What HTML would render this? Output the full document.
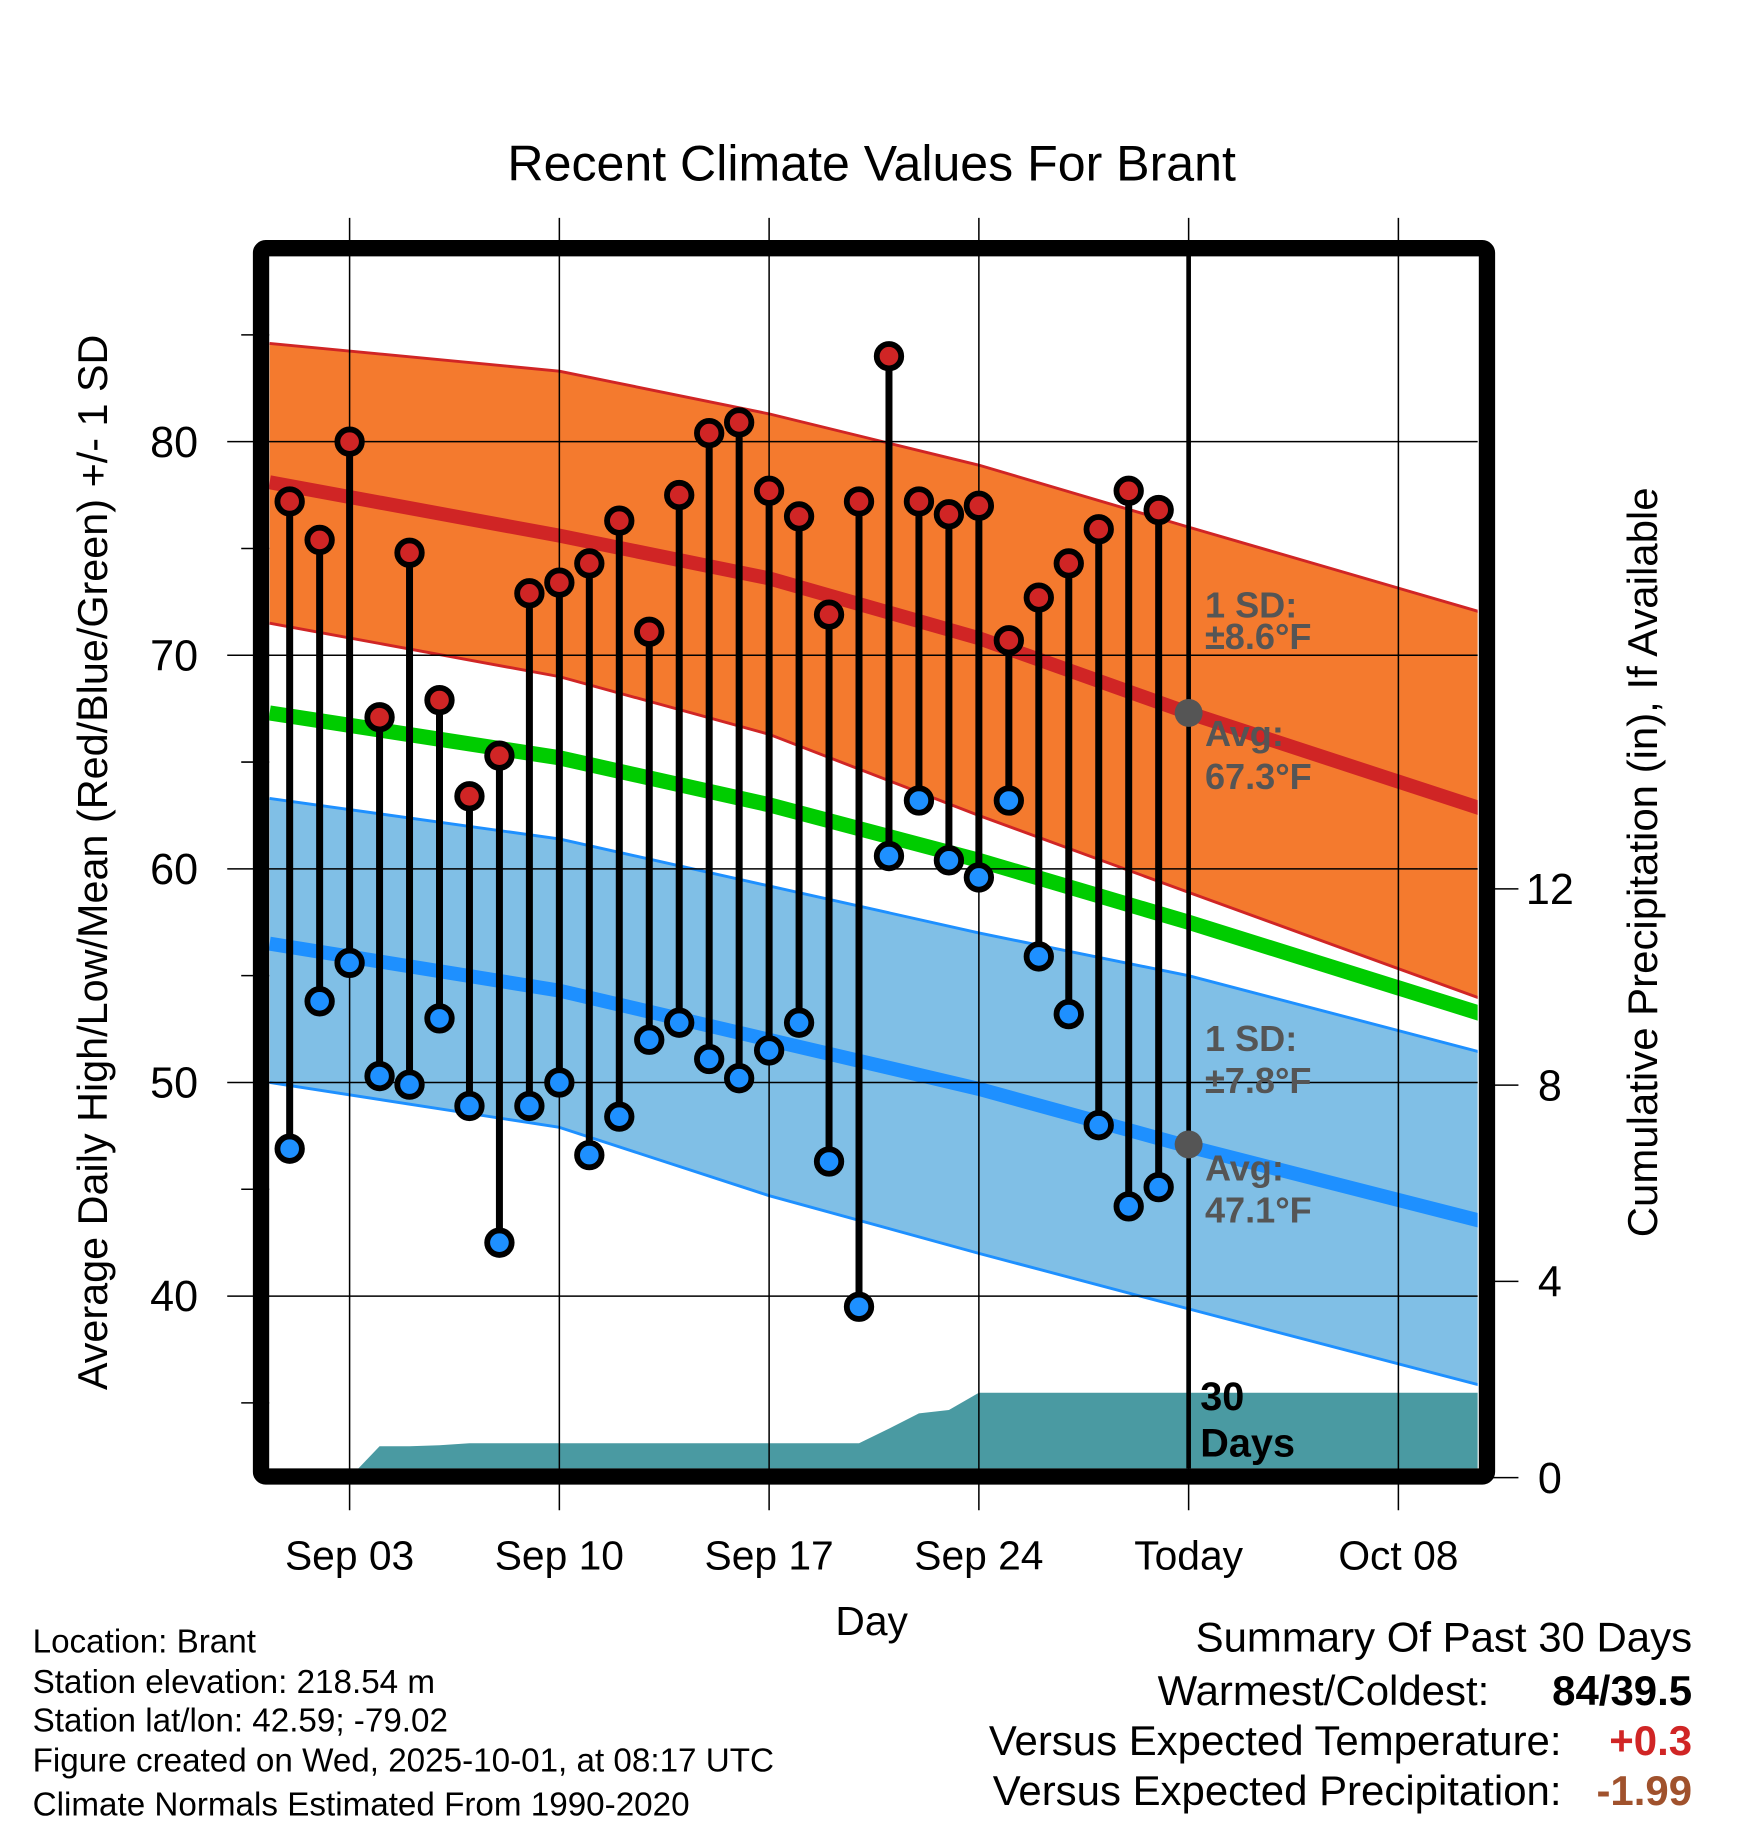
<!DOCTYPE html>
<html><head><meta charset="utf-8"><style>
html,body{margin:0;padding:0;background:#fff;}
svg{display:block;font-family:"Liberation Sans",Arial,sans-serif;}
</style></head><body>
<svg id="chart" width="1748" height="1828" viewBox="0 0 1500 1568.65" preserveAspectRatio="none" xmlns="http://www.w3.org/2000/svg">
<text x="748" y="155" font-size="43" text-anchor="middle">Recent Climate Values For Brant</text>
<g id="plot"></g>
<text x="748" y="1403" font-size="35" text-anchor="middle">Day</text>
<text transform="translate(92,740) rotate(-90)" font-size="35.5" text-anchor="middle">Average Daily High/Low/Mean (Red/Blue/Green) +/- 1 SD</text>
<text transform="translate(1422,740) rotate(-90)" font-size="36" text-anchor="middle">Cumulative Precipitation (in), If Available</text>
<g font-size="28.5">
<text x="28" y="1418">Location: Brant</text>
<text x="28" y="1453">Station elevation: 218.54 m</text>
<text x="28" y="1486">Station lat/lon: 42.59; -79.02</text>
<text x="28" y="1520">Figure created on Wed, 2025-10-01, at 08:17 UTC</text>
<text x="28" y="1558">Climate Normals Estimated From 1990-2020</text>
</g>
<g font-size="36">
<text x="1452" y="1417" text-anchor="end">Summary Of Past 30 Days</text>
<text x="1278" y="1463" text-anchor="end">Warmest/Coldest:</text>
<text x="1452" y="1463" text-anchor="end" font-weight="bold">84/39.5</text>
<text x="1340" y="1506" text-anchor="end">Versus Expected Temperature:</text>
<text x="1452" y="1506" text-anchor="end" font-weight="bold" fill="#d02525">+0.3</text>
<text x="1340" y="1549" text-anchor="end">Versus Expected Precipitation:</text>
<text x="1452" y="1549" text-anchor="end" font-weight="bold" fill="#a0522d">-1.99</text>
</g>
</svg>
<script>
const highs=[77.2,75.4,80,67.1,74.8,67.9,63.4,65.3,72.9,73.4,74.3,76.3,71.1,77.5,80.4,80.9,77.7,76.5,71.9,77.2,84,77.2,76.6,77,70.7,72.7,74.3,75.9,77.7,76.8];
const lows=[46.9,53.8,55.6,50.3,49.9,53.0,48.9,42.5,48.9,50,46.6,48.4,52.0,52.8,51.1,50.2,51.5,52.8,46.3,39.5,60.6,63.2,60.4,59.6,63.2,55.9,53.2,48.0,44.2,45.1];
const precip=[0,0,0,0.64,0.64,0.66,0.7,0.7,0.7,0.7,0.7,0.7,0.7,0.7,0.7,0.7,0.7,0.7,0.7,0.7,1.0,1.31,1.38,1.73,1.73,1.73,1.73,1.73,1.73,1.73];
const normDays=[0.33,10,17,24,31,40.8];
const highAvg=[78.1,75.6,73.6,70.8,67.3,62.8];
const highUp=[84.6,83.3,81.3,78.9,76.0,72.0];
const highLo=[71.5,69.0,66.3,62.5,58.9,53.9];
const meanAvg=[67.3,65.2,63.0,60.4,57.5,53.2];
const lowAvg=[56.5,54.3,52.0,49.7,47.0,43.5];
const lowUp=[63.3,61.4,59.2,57.0,55.0,51.4];
const lowLo=[50.0,47.9,44.7,42.0,39.4,35.8];
const yTicks=[40,50,60,70,80];
const yMinor=[35,45,55,65,75,85];
const pTicks=[0,4,8,12];
const xTickDays=[3,10,17,24,31,38];
const xTickLabels=["Sep 03","Sep 10","Sep 17","Sep 24","Today","Oct 08"];
const todayDay=31;

const NS="http://www.w3.org/2000/svg";
const L=231,R=1268,T=215,B=1260;
const x=d=>300+(d-3)*25.714;
const y=v=>379+(80-v)*18.33;
const yp=p=>1268-p*42.1;
const g=document.getElementById('plot');
function mk(tag,attrs,parent){const e=document.createElementNS(NS,tag);for(const k in attrs)e.setAttribute(k,attrs[k]);(parent||g).appendChild(e);return e;}
const clip=mk('clipPath',{id:'clipin'});mk('rect',{x:L,y:T,width:R-L,height:B-T},clip);
const inner=mk('g',{'clip-path':'url(#clipin)'});
function line(arr){return normDays.map((d,i)=>x(d)+','+y(arr[i])).join(' ');}
function band(a,b){return normDays.map((d,i)=>x(d)+','+y(a[i])).join(' ')+' '+normDays.slice().reverse().map((d,i)=>x(d)+','+y(b[normDays.length-1-i])).join(' ');}
let e;
e=mk('polygon',{points:band(highUp,highLo),fill:'#f47a2e'},inner);


e=mk('polygon',{points:band(lowUp,lowLo),fill:'#80bfe6'},inner);


[[highUp,'#d02525',2.5,'high-upper-sd'],[highLo,'#d02525',2.5,'high-lower-sd'],[lowUp,'#1e90ff',2.5,'low-upper-sd'],[lowLo,'#1e90ff',2.5,'low-lower-sd'],[highAvg,'#d02525',12,'high-normal-line'],[meanAvg,'#00cc00',13,'mean-normal-line'],[lowAvg,'#1e90ff',12,'low-normal-line']].forEach(a=>{
 e=mk('polyline',{points:line(a[0]),fill:'none',stroke:a[1],'stroke-width':a[2],'stroke-linejoin':'round'},inner);
 
 
});
let pts=[];precip.forEach((p,i)=>pts.push(x(i+1)+','+yp(p)));
pts.push(x(41)+','+yp(precip[precip.length-1]));pts.push(x(41)+','+yp(0)+' '+x(1)+','+yp(0));
e=mk('polygon',{points:pts.join(' '),fill:'#4a9aa2'},inner);


yTicks.forEach(v=>{
 e=mk('line',{x1:195,x2:R,y1:y(v),y2:y(v),stroke:'#000','stroke-width':1.3});
 
 
 e=mk('text',{x:170,y:y(v)+13,'font-size':37,'text-anchor':'end'});e.textContent=v;
 
 
});
yMinor.forEach(v=>{mk('line',{x1:207,x2:L,y1:y(v),y2:y(v),stroke:'#000','stroke-width':1.3});});
pTicks.forEach(p=>{
 mk('line',{x1:1275,x2:1303,y1:yp(p),y2:yp(p),stroke:'#000','stroke-width':1.3});
 e=mk('text',{x:1330,y:yp(p)+13,'font-size':37,'text-anchor':'middle'});e.textContent=p;
 
 
});
xTickDays.forEach((d,i)=>{
 e=mk('line',{x1:x(d),x2:x(d),y1:187,y2:1296,stroke:'#000','stroke-width':1.3});
 
 
 e=mk('text',{x:x(d),y:1347,'font-size':35,'text-anchor':'middle'});e.textContent=xTickLabels[i];
 
 
});
e=mk('line',{x1:x(todayDay),x2:x(todayDay),y1:T,y2:B,stroke:'#000','stroke-width':4});


highs.forEach((h,i)=>{
 const cx=x(i+1);
 e=mk('line',{x1:cx,x2:cx,y1:y(h),y2:y(lows[i]),stroke:'#000','stroke-width':6});
 
 
 e=mk('circle',{cx:cx,cy:y(h),r:10.5,fill:'#d02525',stroke:'#000','stroke-width':5});
 
 
 e=mk('circle',{cx:cx,cy:y(lows[i]),r:10.5,fill:'#1e90ff',stroke:'#000','stroke-width':5});
 
 
});
const todayHigh=highAvg[4],todayLow=47.1;
e=mk('circle',{cx:x(todayDay),cy:y(todayHigh),r:12,fill:'#555'});


e=mk('circle',{cx:x(todayDay),cy:y(todayLow),r:12,fill:'#555'});


[["1 SD:",530],["±8.6°F",557],["Avg:",640],["67.3°F",677],["1 SD:",902],["±7.8°F",938],["Avg:",1013],["47.1°F",1049]].forEach(a=>{
 e=mk('text',{x:1034,y:a[1],'font-size':31,'font-weight':'bold',fill:'#555'});e.textContent=a[0];
 
 
});
[["30",1210],["Days",1250]].forEach(a=>{
 e=mk('text',{x:1030,y:a[1],'font-size':34,'font-weight':'bold'});e.textContent=a[0];
 
 
});
e=mk('rect',{x:224,y:213,width:1052,height:1054,fill:'none',stroke:'#000','stroke-width':14,rx:4});


</script>
</body></html>
